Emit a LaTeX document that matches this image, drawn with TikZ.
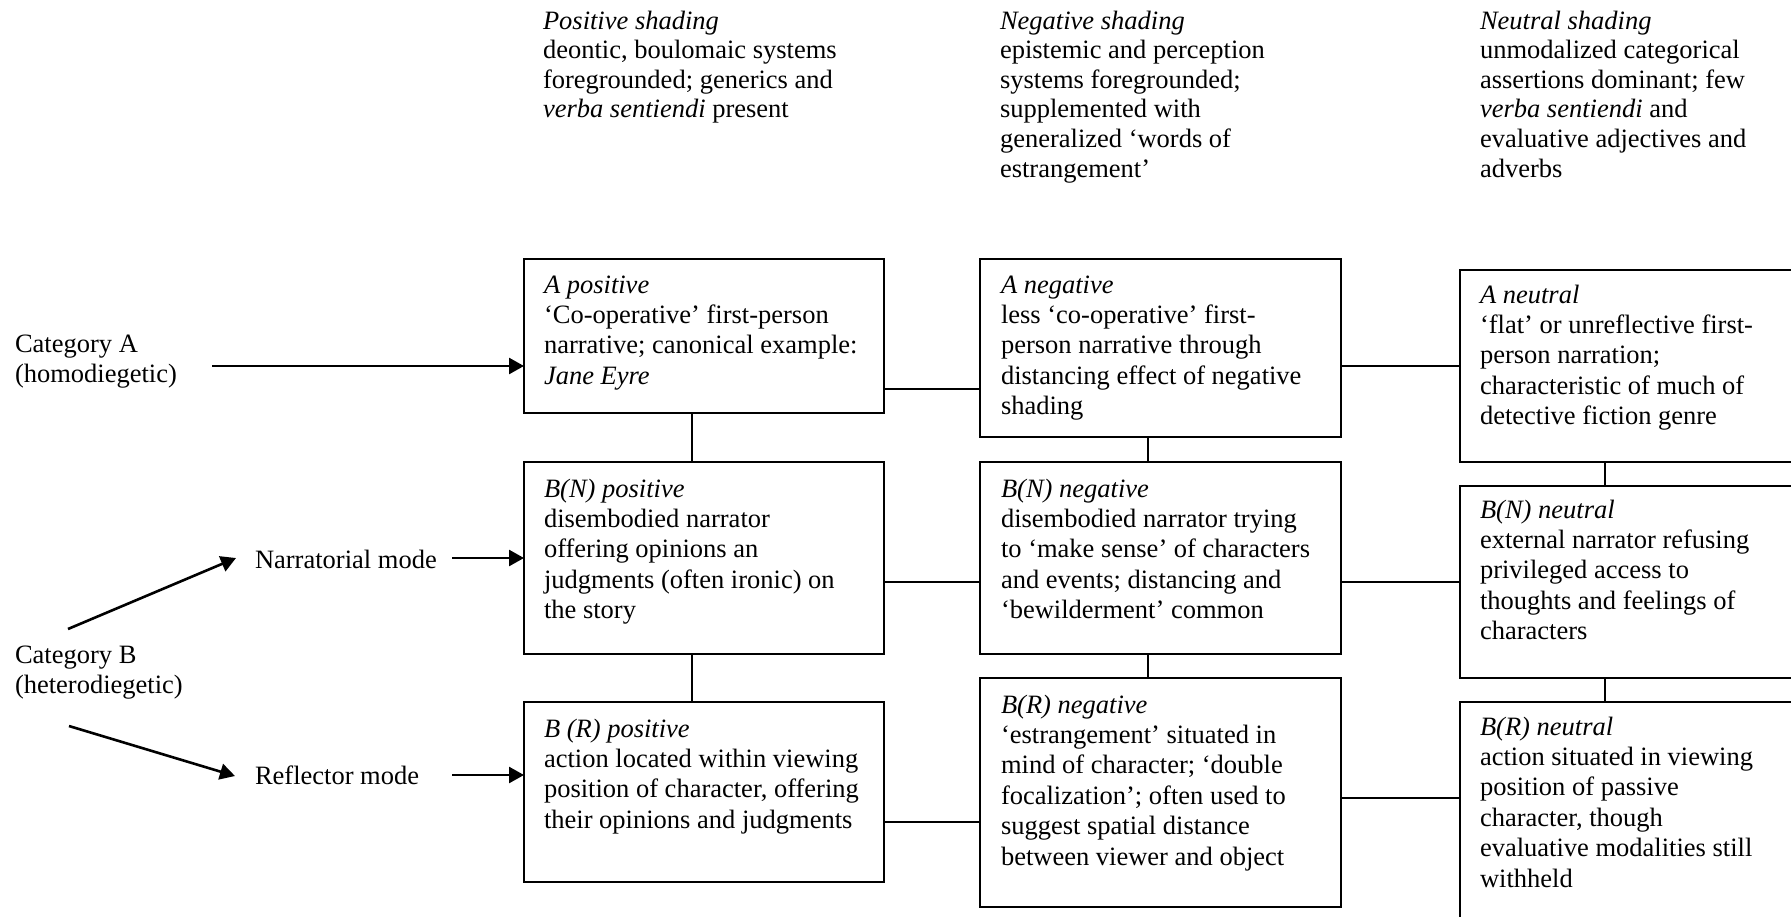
\documentclass[tikz,border=0pt]{standalone}
\usepackage{fontspec}
\setmainfont{Liberation Serif}
\usetikzlibrary{arrows.meta}
\newcommand\mylines[1]{\begin{tabular}[t]{@{}l@{}}#1\end{tabular}}
\tikzset{
  bx/.style={draw, line width=0.9pt, rectangle, inner sep=0pt, outer sep=0pt, anchor=north west},
  txt/.style={inner sep=0pt, outer sep=0pt, anchor=base west, font=\fontsize{13.25pt}{15.2pt}\selectfont},
  hdr/.style={inner sep=0pt, outer sep=0pt, anchor=base west, font=\fontsize{13.25pt}{14.8pt}\selectfont},
  conn/.style={line width=0.9pt},
  arr/.style={line width=1.3pt, -{Triangle[length=7.5pt,width=8pt]}},
}
\begin{document}
\begin{tikzpicture}[x=0.5pt,y=-0.5pt]
\path[use as bounding box, fill=white] (0,0) rectangle (1791,916);
\clip (0,0) rectangle (1791,916);

% headers
\node[hdr] (hpos) at (543,29) {\mylines{\textit{Positive shading}\\deontic, boulomaic systems\\foregrounded; generics and\\\textit{verba sentiendi} present}};
\node[hdr] (hneg) at (1000,29) {\mylines{\textit{Negative shading}\\epistemic and perception\\systems foregrounded;\\supplemented with\\generalized ‘words of\\estrangement’}};
\node[hdr] (hneu) at (1480,29) {\mylines{\textit{Neutral shading}\\unmodalized categorical\\assertions dominant; few\\\textit{verba sentiendi} and\\evaluative adjectives and\\adverbs}};

% boxes
\node[bx, minimum width=180pt, minimum height=77pt] (Apos) at (524,259) {};
\node[bx, minimum width=180pt, minimum height=96pt] (Bnpos) at (524,462) {};
\node[bx, minimum width=180pt, minimum height=90pt] (Brpos) at (524,702) {};
\node[bx, minimum width=180.5pt, minimum height=89pt] (Aneg) at (980,259) {};
\node[bx, minimum width=180.5pt, minimum height=96pt] (Bnneg) at (980,462) {};
\node[bx, minimum width=180.5pt, minimum height=114.5pt] (Brneg) at (980,678) {};
\node[bx, minimum width=185pt, minimum height=96pt] (Aneu) at (1460,270) {};
\node[bx, minimum width=185pt, minimum height=96pt] (Bnneu) at (1460,486) {};
\node[bx, minimum width=185pt, minimum height=120pt] (Brneu) at (1460,702) {};

% box texts
\node[txt] (tApos) at (544,293) {\mylines{\textit{A positive}\\‘Co-operative’ first-person\\narrative; canonical example:\\\textit{Jane Eyre}}};
\node[txt] (tBnpos) at (544,497) {\mylines{\textit{B(N) positive}\\disembodied narrator\\offering opinions an\\judgments (often ironic) on\\the story}};
\node[txt] (tBrpos) at (544,737) {\mylines{\textit{B (R) positive}\\action located within viewing\\position of character, offering\\their opinions and judgments}};
\node[txt] (tAneg) at (1001,293) {\mylines{\textit{A negative}\\less ‘co-operative’ first-\\person narrative through\\distancing effect of negative\\shading}};
\node[txt] (tBnneg) at (1001,497) {\mylines{\textit{B(N) negative}\\disembodied narrator trying\\to ‘make sense’ of characters\\and events; distancing and\\‘bewilderment’ common}};
\node[txt] (tBrneg) at (1001,713) {\mylines{\textit{B(R) negative}\\‘estrangement’ situated in\\mind of character; ‘double\\focalization’; often used to\\suggest spatial distance\\between viewer and object}};
\node[txt] (tAneu) at (1480,303) {\mylines{\textit{A neutral}\\‘flat’ or unreflective first-\\person narration;\\characteristic of much of\\detective fiction genre}};
\node[txt] (tBnneu) at (1480,518) {\mylines{\textit{B(N) neutral}\\external narrator refusing\\privileged access to\\thoughts and feelings of\\characters}};
\node[txt] (tBrneu) at (1480,735) {\mylines{\textit{B(R) neutral}\\action situated in viewing\\position of passive\\character, though\\evaluative modalities still\\withheld}};

% left labels
\node[txt] (catA) at (15,352) {\mylines{Category A\\(homodiegetic)}};
\node[txt] (catB) at (15,663) {\mylines{Category B\\(heterodiegetic)}};
\node[txt] (narr) at (255,568) {Narratorial mode};
\node[txt] (refl) at (255,784) {Reflector mode};

% connector levels
\coordinate (c1) at (692,0);
\coordinate (c2) at (1148,0);
\coordinate (c3) at (1605,0);
\coordinate (r1) at (0,389);
\coordinate (r2) at (0,366);
\coordinate (r3) at (0,582);
\coordinate (r4) at (0,822);
\coordinate (r5) at (0,798);

% vertical connectors
\draw[conn] (Apos.south -| c1) -- (Bnpos.north -| c1);
\draw[conn] (Bnpos.south -| c1) -- (Brpos.north -| c1);
\draw[conn] (Aneg.south -| c2) -- (Bnneg.north -| c2);
\draw[conn] (Bnneg.south -| c2) -- (Brneg.north -| c2);
\draw[conn] (Aneu.south -| c3) -- (Bnneu.north -| c3);
\draw[conn] (Bnneu.south -| c3) -- (Brneu.north -| c3);

% horizontal connectors
\draw[conn] (Apos.east |- r1) -- (Aneg.west |- r1);
\draw[conn] (Aneg.east |- r2) -- (Aneu.west |- r2);
\draw[conn] (Bnpos.east |- r3) -- (Bnneg.west |- r3);
\draw[conn] (Bnneg.east |- r3) -- (Bnneu.west |- r3);
\draw[conn] (Brpos.east |- r4) -- (Brneg.west |- r4);
\draw[conn] (Brneg.east |- r5) -- (Brneu.west |- r5);

% arrows
\coordinate (sA) at (212,366);
\coordinate (sN) at (452,558);
\coordinate (sR) at (452,775);
\coordinate (dN1) at (68,629);
\coordinate (dN2) at (236,558);
\coordinate (dR1) at (69,726);
\coordinate (dR2) at (235,776);
\draw[arr] (sA) -- (Apos.west |- sA);
\draw[arr] (sN) -- (Bnpos.west |- sN);
\draw[arr] (sR) -- (Brpos.west |- sR);
\draw[arr] (dN1) -- (dN2);
\draw[arr] (dR1) -- (dR2);
\end{tikzpicture}
\end{document}
